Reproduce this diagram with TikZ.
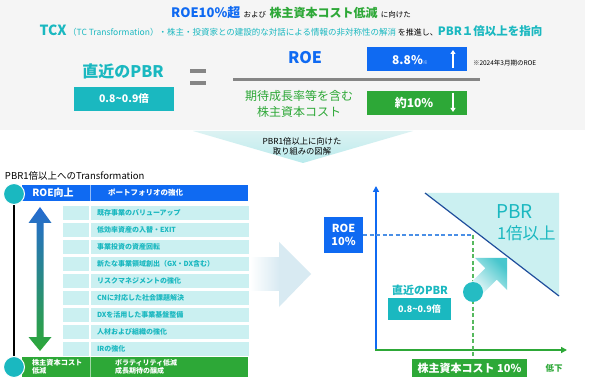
\documentclass[tikz,border=0pt]{standalone}
\usepackage{fontspec}
\setmainfont{Noto Sans CJK JP}
\usetikzlibrary{arrows.meta}
\definecolor{bluem}{HTML}{0F6AF2}
\definecolor{greenm}{HTML}{2DA837}
\definecolor{tealm}{HTML}{1AB8C0}
\definecolor{lteal}{HTML}{CBF0F1}
\definecolor{graybg}{HTML}{F5F5F5}
\definecolor{grayln}{HTML}{858585}
\definecolor{arrbl}{HTML}{D8EAF2}
\definecolor{diagbl}{HTML}{1F4E9C}
\definecolor{dashbl}{HTML}{4A8FE6}
\newcommand\fsz[2]{\fontsize{#1}{#2}\selectfont}
\tikzset{
  txt/.style={inner sep=0pt, outer sep=0pt},
  rowcell/.style={fill=lteal, draw=none},
  rowtxt/.style={txt, anchor=west, text=tealm, font={\fsz{7}{8}\bfseries}},
  wbold/.style={txt, text=white, font={\fsz{#1}{#1}\bfseries}},
  circ/.style={circle, fill=tealm, draw=white, line width=1pt, minimum size=21pt, inner sep=0pt},
}
\begin{document}
\begin{tikzpicture}[x=1pt,y=-1pt]
\useasboundingbox (0,0) rectangle (608,382);
\fill[white] (0,0) rectangle (608,382);
\fill[graybg] (0,0) rectangle (585,130);

% title lines
\node[txt] (t1) at (291,13) {{\color{bluem}\fsz{13}{14}\bfseries ROE10\%超}\,\,{\fsz{7.5}{8}および}\,\,{\color{greenm}\fsz{12}{14}\bfseries 株主資本コスト低減}\,\,{\fsz{7.5}{8}に向けた}};
\node[txt] (t2) at (291,31) {{\color{tealm}\fsz{14}{15}\bfseries TCX}\,{\color{tealm}\fsz{8.5}{9}（TC Transformation）・株主・投資家との建設的な対話による情報の非対称性の解消}\,{\fsz{8}{9}を推進し、}{\color{tealm}\fsz{11.5}{13}\bfseries PBR１倍以上を指向}};

% left PBR
\node[txt, text=tealm, font={\fsz{16}{17}\bfseries}] (pbrt) at (123,71) {直近のPBR};
\node[fill=tealm, minimum width=100pt, minimum height=24pt, inner sep=0pt] (pbrb) at (124,99) {};
\node[wbold=10.5] at (pbrb) {0.8{\char"7E}0.9倍};

% equals
\fill[grayln] (190,69) rectangle (206,73);
\fill[grayln] (190,81) rectangle (206,85);

% fraction
\node[txt, text=bluem, font={\fsz{16}{17}\bfseries}] (roe) at (305,58) {ROE};
\draw[grayln, line width=3pt] (233,80) -- (480,80);
\node[txt, text=greenm, font={\fsz{12}{16}}, align=center] (cost) at (299,104) {期待成長率等を含む\\株主資本コスト};
\node[fill=bluem, minimum width=100pt, minimum height=24pt, inner sep=0pt] (roeb) at (417,59) {};
\node[wbold=12] (roev) at (410,60) {8.8\%{\fsz{5}{5}※}};
\draw[white, line width=1.6pt, -{Triangle[length=4pt,width=5pt]}] (453,68) -- (453,50);
\node[fill=greenm, minimum width=100pt, minimum height=24pt, inner sep=0pt] (costb) at (417,103) {};
\node[wbold=12] (costv) at (414,103) {約10\%};
\draw[white, line width=1.6pt, -{Triangle[length=4pt,width=5pt]}] (453,93) -- (453,112);
\node[txt, anchor=west, font={\fsz{6.5}{7}}] (note) at (473,63) {※2024年3月期のROE};

% funnel
\shade[top color=graybg!40!lteal, bottom color=lteal!90!tealm] (193,131) -- (413,131) -- (303,163) -- cycle;
\node[txt, font={\fsz{8.3}{10}}, align=center] (funt) at (302,146) {PBR1倍以上に向けた\\取り組みの図解};

% left section
\node[txt, anchor=west, font={\fsz{9.5}{10}}] (trt) at (5,176) {PBR1倍以上へのTransformation};
\fill[bluem] (22,185) rectangle (248,201);
\draw[white!55!bluem, line width=0.8pt] (90,185) -- (90,201);
\node[wbold=10] (roeup) at (53,193) {ROE向上};
\node[wbold=7.5, anchor=west] (pf) at (108,193) {ポートフォリオの強化};

\foreach \i/\t in {0/既存事業のバリューアップ, 1/低効率資産の入替・EXIT, 2/事業投資の資産回転, 3/新たな事業領域創出（GX・DX含む）, 4/リスクマネジメントの強化, 5/CNに対応した社会課題解決, 6/DXを活用した事業基盤整備, 7/人材および組織の強化, 8/IRの強化}{
  \fill[lteal] (63,206+17*\i) rectangle (88.5,220+17*\i);
  \fill[lteal] (91,206+17*\i) rectangle (249,220+17*\i);
  \node[rowtxt] (r\i) at (97,213+17*\i) {\t};
}

\fill[greenm] (22,357) rectangle (248,377);
\draw[white!55!greenm, line width=0.8pt] (90,357) -- (90,377);
\node[txt, anchor=west, text=white, font={\fsz{7.2}{8}\bfseries}, align=left] (cst) at (32,367) {株主資本コスト\\低減};
\node[txt, anchor=west, text=white, font={\fsz{7}{8}\bfseries}, align=left] (vol) at (115,367) {ボラティリティ低減\\成長期待の醸成};

\draw[black, line width=1.2pt] (14,200) -- (14,358);
\node[circ] (c1) at (14,194) {};
\node[circ] (c2) at (14,367) {};

% double arrow
\shade[top color=bluem!85!black!90, bottom color=greenm] (40,207) -- (51.5,223) -- (43.5,223) -- (43.5,337) -- (51.5,337) -- (40,351) -- (28.5,337) -- (36.5,337) -- (36.5,223) -- (28.5,223) -- cycle;

% big right arrow
\shade[left color=white, right color=arrbl] (250,258) rectangle (279.5,290);
\fill[arrbl] (279,242) -- (311,274) -- (279,307) -- cycle;

% chart
\fill[lteal] (425,193) -- (559,193) -- (559,296) -- cycle;
\draw[diagbl, line width=1.2pt] (425,193) -- (559,296);
\node[txt, anchor=west, text=tealm, font={\fsz{19}{20}}] (pbr1) at (496,212) {PBR};
\node[txt, anchor=west, text=tealm, font={\fsz{16.5}{18}}] (pbr2) at (497,233) {1倍以上};

\draw[bluem, line width=2pt, -{Triangle[length=6pt,width=6pt]}] (376,351) -- (376,186);
\draw[greenm, line width=2pt, -{Triangle[length=6pt,width=6pt]}] (375,350) -- (567,350);

\coordinate (cross) at (473,235);
\draw[dashbl, line width=1.3pt, dash pattern=on 4pt off 2.5pt] (363,235) -- (cross);
\draw[greenm!80!white, line width=1.3pt, dash pattern=on 4pt off 2.5pt] (cross) -- (473,359);

\node[fill=bluem, minimum width=39pt, minimum height=36pt, inner sep=0pt] (roebox) at (343.5,235) {};
\node[wbold=11, align=center, font={\fsz{11}{13}\bfseries}] at (roebox) {ROE\\10\%};

\shade[top color=tealm!80, bottom color=white, shading angle=-45] (507,258) -- (507,290) -- (496.7,279.7) -- (478.7,297.7) -- (467.3,286.3) -- (485.3,268.3) -- (475,258) -- cycle;
\node[circle, fill=tealm!95!white, minimum size=20pt, inner sep=0pt] (cur) at (473,292) {};

\node[txt, text=tealm, font={\fsz{11}{12}\bfseries}] (curt) at (420,290) {直近のPBR};
\node[fill=tealm, minimum width=63pt, minimum height=22pt, inner sep=0pt] (curb) at (419.5,309) {};
\node[wbold=9] at (curb) {0.8{\char"7E}0.9倍};

\node[fill=greenm, minimum width=115pt, minimum height=18pt, inner sep=0pt] (cb) at (469.5,368) {};
\node[wbold=11] at (cb) {株主資本コスト 10\%};
\node[txt, text=greenm, font={\fsz{8.5}{9}\bfseries}] (low) at (554,368) {低下};
\end{tikzpicture}
\end{document}
